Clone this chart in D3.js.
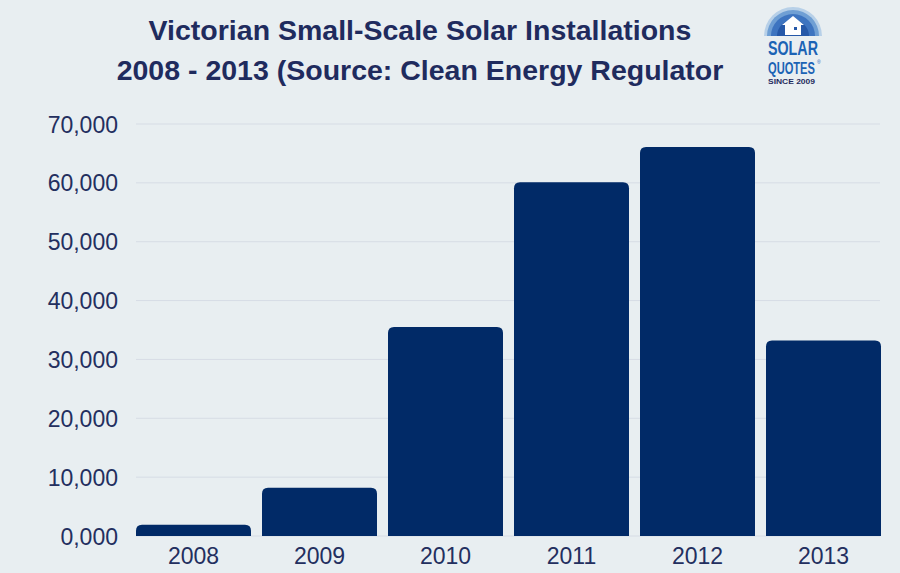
<!DOCTYPE html>
<html>
<head>
<meta charset="utf-8">
<script src="https://cdn.jsdelivr.net/npm/d3@7"></script>
<style>
html,body{margin:0;padding:0;background:#e8eef1;}
svg{display:block;}
text{font-family:"Liberation Sans", Arial, Helvetica, sans-serif;}
</style>
</head>
<body>
<svg id="chart" width="900" height="573"></svg>
<script>
const years = ["2008","2009","2010","2011","2012","2013"];
const installs = [1900, 8200, 35500, 60100, 66100, 33200];
const yTicks = [0,10000,20000,30000,40000,50000,60000,70000];
const yTickLabels = ["0,000","10,000","20,000","30,000","40,000","50,000","60,000","70,000"];
const titleLines = ["Victorian Small-Scale Solar Installations","2008 - 2013 (Source: Clean Energy Regulator"];

const svg = d3.select("#chart");
svg.append("rect").attr("width",900).attr("height",573).attr("fill","#e8eef1");

const x = d3.scaleBand().domain(years).range([136,881]).paddingInner(11/126).paddingOuter(0);
const y = d3.scaleLinear().domain([0,70000]).range([536,124]);

// gridlines
svg.append("g").selectAll("line").data(yTicks).join("line")
  .attr("x1",136).attr("x2",880)
  .attr("y1",d=>y(d)).attr("y2",d=>y(d))
  .attr("stroke","#d6dce5").attr("stroke-width",1);

// y axis labels
const yAxis = d3.axisLeft(y).tickValues(yTicks).tickSize(0).tickPadding(0)
  .tickFormat((d,i)=>yTickLabels[i]);
const gy = svg.append("g").attr("transform","translate(118,0)").call(yAxis);
gy.select(".domain").remove();
gy.selectAll("text").attr("font-size",23).attr("fill","#232f5f")
  .attr("font-family","'Liberation Sans', Arial, sans-serif").attr("dy","0.35em");

// x axis labels
const xAxis = d3.axisBottom(x).tickSize(0).tickPadding(0);
const gx = svg.append("g").attr("transform","translate(0,548)").call(xAxis);
gx.select(".domain").remove();
gx.selectAll("text").attr("font-size",23).attr("fill","#232f5f")
  .attr("font-family","'Liberation Sans', Arial, sans-serif").attr("dy","0.71em");

// bars with rounded tops
const r = 6;
function barPath(d,i){
  const x0 = x(years[i]), w = x.bandwidth(), y0 = y(d), y1 = y(0);
  const rr = Math.min(r, (y1-y0));
  return `M${x0},${y1} L${x0},${y0+rr} Q${x0},${y0} ${x0+rr},${y0} L${x0+w-rr},${y0} Q${x0+w},${y0} ${x0+w},${y0+rr} L${x0+w},${y1} Z`;
}
svg.append("g").selectAll("path").data(installs).join("path")
  .attr("d",barPath).attr("fill","#012a67");

// title
svg.append("g").selectAll("text").data(titleLines).join("text")
  .attr("x",420).attr("y",(d,i)=>40+i*40)
  .attr("text-anchor","middle").attr("font-size",28.5).attr("font-weight","bold")
  .attr("fill","#1f2b5e").text(d=>d);

// logo
const logo = svg.append("g");
const defs = svg.append("defs");
const cp = defs.append("clipPath").attr("id","domeclip");
cp.append("rect").attr("x",760).attr("y",0).attr("width",70).attr("height",36);
const cx = 793, cy = 36;
const dg = logo.append("g").attr("clip-path","url(#domeclip)");
dg.append("circle").attr("cx",cx).attr("cy",cy).attr("r",29).attr("fill","#b7d0e8");
dg.append("circle").attr("cx",cx).attr("cy",cy).attr("r",26).attr("fill","#6f9fd4");
dg.append("circle").attr("cx",cx).attr("cy",cy).attr("r",22).attr("fill","#3d74c0");
dg.append("circle").attr("cx",cx).attr("cy",cy).attr("r",16).attr("fill","#2558a8");
// house
logo.append("path")
  .attr("d",`M${cx-11},${cy-11} L${cx},${cy-20} L${cx+11},${cy-11} L${cx+8},${cy-11} L${cx+8},${cy-1} L${cx-8},${cy-1} L${cx-8},${cy-11} Z`)
  .attr("fill","#ffffff");
logo.append("rect").attr("x",cx+1).attr("y",cy-9).attr("width",3).attr("height",3).attr("fill","#2558a8");

function squeezedText(txt, x0, y0, size, width, color){
  const t = logo.append("text").attr("x",0).attr("y",0)
    .attr("font-size",size).attr("font-weight","bold").attr("fill",color).text(txt);
  const w = t.node().getComputedTextLength();
  t.attr("transform",`translate(${x0},${y0}) scale(${width/w},1)`);
  return t;
}
squeezedText("SOLAR", 768, 55, 20, 50, "#1b63b5");
squeezedText("QUOTES", 768, 74, 16.5, 47, "#1b63b5");
logo.append("text").attr("x",817).attr("y",64).attr("font-size",5)
  .attr("fill","#1b63b5").text("®");
squeezedText("SINCE 2009", 768, 84, 7, 47, "#1f2b5e");
</script>
</body>
</html>
